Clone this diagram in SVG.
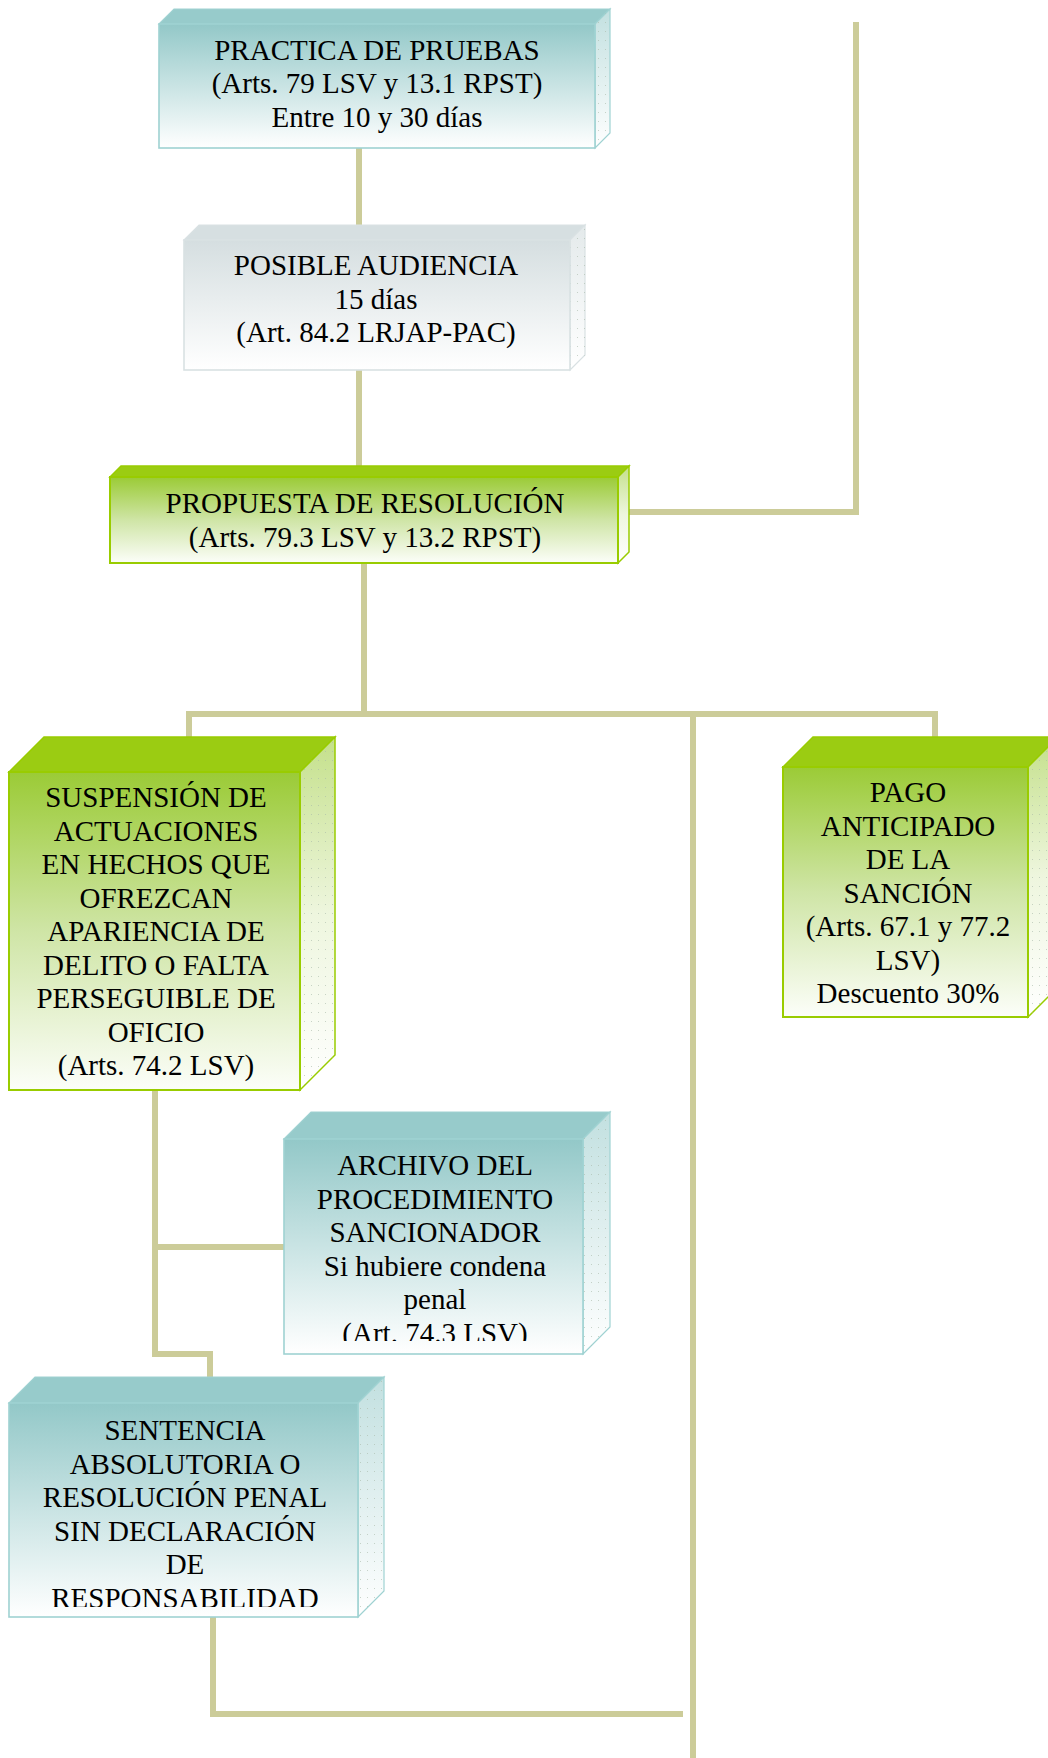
<svg xmlns="http://www.w3.org/2000/svg" width="1048" height="1758" viewBox="0 0 1048 1758">
<defs>
<linearGradient id="gTeal" x1="0" y1="0" x2="0" y2="1">
<stop offset="0" stop-color="#93C8C8"/><stop offset="1" stop-color="#FFFFFF"/>
</linearGradient>
<linearGradient id="gTealSide" x1="0" y1="0" x2="0" y2="1">
<stop offset="0" stop-color="#C2E0E0"/><stop offset="1" stop-color="#FFFFFF"/>
</linearGradient>
<linearGradient id="gGrey" x1="0" y1="0" x2="0" y2="1">
<stop offset="0" stop-color="#D5DEE0"/><stop offset="1" stop-color="#FFFFFF"/>
</linearGradient>
<linearGradient id="gGreySide" x1="0" y1="0" x2="0" y2="1">
<stop offset="0" stop-color="#E4EAEB"/><stop offset="1" stop-color="#FFFFFF"/>
</linearGradient>
<linearGradient id="gGreen" x1="0" y1="0" x2="0" y2="1">
<stop offset="0" stop-color="#9BCB36"/><stop offset="0.5" stop-color="#CFE5A6"/><stop offset="1" stop-color="#FCFEF9"/>
</linearGradient>
<linearGradient id="gGreenSide" x1="0" y1="0" x2="0" y2="1">
<stop offset="0" stop-color="#C4E08A"/><stop offset="0.5" stop-color="#EEF6DE"/><stop offset="1" stop-color="#FFFFFF"/>
</linearGradient>
<pattern id="dots" width="7" height="9" patternUnits="userSpaceOnUse">
<rect x="3" y="4" width="1" height="1" fill="#A9B9A9" opacity="0.6"/>
</pattern>
<clipPath id="clip6"><rect x="284" y="1139" width="299" height="202"/></clipPath>
<clipPath id="clip7"><rect x="9" y="1403" width="349" height="204"/></clipPath>
</defs>
<style>
.conn{fill:none;stroke:#CCCC99;stroke-width:6;stroke-linejoin:miter}
.t{font-family:"Liberation Serif","Times New Roman",serif;font-size:29px;fill:#000;text-anchor:middle}
.teal .front{fill:url(#gTeal);stroke:#9FD2D2;stroke-width:1.6}
.teal .top{fill:#97CBCB;stroke:#9FD2D2;stroke-width:1.2}
.teal .side{fill:url(#gTealSide);stroke:#9FD2D2;stroke-width:1.2}
.grey .front{fill:url(#gGrey);stroke:#D9E1E3;stroke-width:1.6}
.grey .top{fill:#D6DFE1;stroke:#D9E1E3;stroke-width:1.2}
.grey .side{fill:url(#gGreySide);stroke:#D9E1E3;stroke-width:1.2}
.green .front{fill:url(#gGreen);stroke:#99CC00;stroke-width:2}
.green .top{fill:#9BCC12;stroke:#99CC00;stroke-width:1.5}
.green .side{fill:url(#gGreenSide);stroke:#99CC00;stroke-width:1.5}
.dot{fill:url(#dots)}
</style>
<rect width="1048" height="1758" fill="#FFFFFF"/>
<g id="connectors">
<path class="conn" d="M359 148 V240"/>
<path class="conn" d="M359 370 V477"/>
<path class="conn" d="M364 563 V714"/>
<path class="conn" d="M189 737 V714 H935 V737"/>
<path class="conn" d="M693 714 V1758"/>
<path class="conn" d="M629 512 H856 V22"/>
<path class="conn" d="M155 1090 V1354 H210 V1377"/>
<path class="conn" d="M155 1247 H284"/>
<path class="conn" d="M213 1617 V1714 H683"/>
</g>
<g id="practica" class="teal">
<polygon class="top" points="159,24 174,9 610,9 595,24"/>
<polygon class="side" points="595,24 610,9 610,133 595,148"/>
<polygon class="dot" points="595,24 610,9 610,133 595,148"/>
<rect class="front" x="159" y="24" width="436" height="124"/>
<text class="t" x="377" y="59.5">PRACTICA DE PRUEBAS</text>
<text class="t" x="377" y="93">(Arts. 79 LSV y 13.1 RPST)</text>
<text class="t" x="377" y="126.5">Entre 10 y 30 días</text>
</g>
<g id="audiencia" class="grey">
<polygon class="top" points="184,240 199,225 585,225 570,240"/>
<polygon class="side" points="570,240 585,225 585,355 570,370"/>
<polygon class="dot" points="570,240 585,225 585,355 570,370"/>
<rect class="front" x="184" y="240" width="386" height="130"/>
<text class="t" x="376" y="275">POSIBLE AUDIENCIA</text>
<text class="t" x="376" y="308.5">15 días</text>
<text class="t" x="376" y="342">(Art. 84.2 LRJAP-PAC)</text>
</g>
<g id="propuesta" class="green">
<polygon class="top" points="110,477 121,466 629,466 618,477"/>
<polygon class="side" points="618,477 629,466 629,552 618,563"/>
<rect class="front" x="110" y="477" width="508" height="86"/>
<text class="t" x="365" y="513">PROPUESTA DE RESOLUCIÓN</text>
<text class="t" x="365" y="547">(Arts. 79.3 LSV y 13.2 RPST)</text>
</g>
<g id="suspension" class="green">
<polygon class="top" points="9,772 44,737 335,737 300,772"/>
<polygon class="side" points="300,772 335,737 335,1055 300,1090"/>
<polygon class="dot" points="300,772 335,737 335,1055 300,1090"/>
<rect class="front" x="9" y="772" width="291" height="318"/>
<text class="t" x="156" y="807">SUSPENSIÓN DE</text>
<text class="t" x="156" y="840.5">ACTUACIONES</text>
<text class="t" x="156" y="874">EN HECHOS QUE</text>
<text class="t" x="156" y="907.5">OFREZCAN</text>
<text class="t" x="156" y="941">APARIENCIA DE</text>
<text class="t" x="156" y="974.5">DELITO O FALTA</text>
<text class="t" x="156" y="1008">PERSEGUIBLE DE</text>
<text class="t" x="156" y="1041.5">OFICIO</text>
<text class="t" x="156" y="1075">(Arts. 74.2 LSV)</text>
</g>
<g id="pago" class="green">
<polygon class="top" points="783,767 813,737 1058,737 1028,767"/>
<polygon class="side" points="1028,767 1058,737 1058,987 1028,1017"/>
<polygon class="dot" points="1028,767 1058,737 1058,987 1028,1017"/>
<rect class="front" x="783" y="767" width="245" height="250"/>
<text class="t" x="908" y="802">PAGO</text>
<text class="t" x="908" y="835.5">ANTICIPADO</text>
<text class="t" x="908" y="869">DE LA</text>
<text class="t" x="908" y="902.5">SANCIÓN</text>
<text class="t" x="908" y="936">(Arts. 67.1 y 77.2</text>
<text class="t" x="908" y="969.5">LSV)</text>
<text class="t" x="908" y="1003">Descuento 30%</text>
</g>
<g id="archivo" class="teal">
<polygon class="top" points="284,1139 311,1112 610,1112 583,1139"/>
<polygon class="side" points="583,1139 610,1112 610,1327 583,1354"/>
<polygon class="dot" points="583,1139 610,1112 610,1327 583,1354"/>
<rect class="front" x="284" y="1139" width="299" height="215"/>
<g clip-path="url(#clip6)">
<text class="t" x="435" y="1175">ARCHIVO DEL</text>
<text class="t" x="435" y="1208.5">PROCEDIMIENTO</text>
<text class="t" x="435" y="1242">SANCIONADOR</text>
<text class="t" x="435" y="1275.5">Si hubiere condena</text>
<text class="t" x="435" y="1309">penal</text>
<text class="t" x="435" y="1342.5">(Art. 74.3 LSV)</text>
</g>
</g>
<g id="sentencia" class="teal">
<polygon class="top" points="9,1403 35,1377 384,1377 358,1403"/>
<polygon class="side" points="358,1403 384,1377 384,1591 358,1617"/>
<polygon class="dot" points="358,1403 384,1377 384,1591 358,1617"/>
<rect class="front" x="9" y="1403" width="349" height="214"/>
<g clip-path="url(#clip7)">
<text class="t" x="185" y="1440">SENTENCIA</text>
<text class="t" x="185" y="1473.5">ABSOLUTORIA O</text>
<text class="t" x="185" y="1507">RESOLUCIÓN PENAL</text>
<text class="t" x="185" y="1540.5">SIN DECLARACIÓN</text>
<text class="t" x="185" y="1574">DE</text>
<text class="t" x="185" y="1607.5">RESPONSABILIDAD</text>
</g>
</g>
</svg>
